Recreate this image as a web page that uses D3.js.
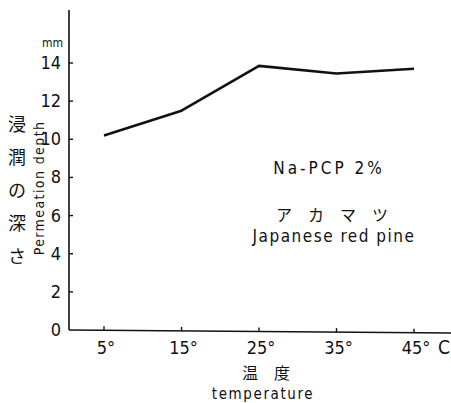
<!DOCTYPE html>
<html lang="ja">
<head>
<meta charset="UTF-8">
<title>Permeation depth</title>
<style>
  body { margin: 0; background: #fff; }
  svg text { fill: #111; }
  .tick-label { font-family: "Liberation Sans Narrow", "DejaVu Sans Condensed", sans-serif; font-size: 18px; }
  .latin { font-family: "DejaVu Sans Condensed", "DejaVu Sans", sans-serif; }
  .cjk { font-family: "Noto Sans CJK JP", sans-serif; }
</style>
</head>
<body>
<svg></svg>
<script src="https://d3js.org/d3.v7.min.js"></script>
<script>
  // values
  let temps = [5, 15, 25, 35, 45];
  let depth = [10.2, 11.5, 13.85, 13.45, 13.7];
  let yTicks = [0, 2, 4, 6, 8, 10, 12, 14];
  let xTickLabels = ['5°', '15°', '25°', '35°', '45°'];

  let width = 451, height = 403;

  let svg = d3.select('svg')
    .attr('width', width)
    .attr('height', height);

  let x = d3.scaleLinear().domain([5, 45]).range([104, 414]);
  let y = d3.scaleLinear().domain([0, 14]).range([330, 63]);

  let axisX = 69;

  // axes lines
  svg.append('line')
    .attr('x1', axisX).attr('x2', axisX)
    .attr('y1', 10).attr('y2', y(0))
    .attr('stroke', '#111').attr('stroke-width', 1.6);

  svg.append('line')
    .attr('x1', axisX).attr('x2', 451)
    .attr('y1', y(0)).attr('y2', y(0) + 3)
    .attr('stroke', '#111').attr('stroke-width', 1.6);

  // y ticks
  let gy = svg.append('g');
  gy.selectAll('line')
    .data(yTicks.filter(d => d > 0))
    .enter()
    .append('line')
    .attr('x1', axisX).attr('x2', axisX + 4)
    .attr('y1', d => y(d)).attr('y2', d => y(d))
    .attr('stroke', '#111').attr('stroke-width', 1.4);

  gy.selectAll('text')
    .data(yTicks)
    .enter()
    .append('text')
    .attr('class', 'tick-label')
    .attr('x', axisX - 8)
    .attr('y', d => y(d) + 6)
    .attr('text-anchor', 'end')
    .text(d => d);

  svg.append('text')
    .attr('class', 'tick-label')
    .attr('x', axisX - 6)
    .attr('y', 47)
    .attr('text-anchor', 'end')
    .style('font-size', '12px')
    .text('mm');

  // x ticks
  let gx = svg.append('g');
  gx.selectAll('line')
    .data(temps)
    .enter()
    .append('line')
    .attr('x1', d => x(d)).attr('x2', d => x(d))
    .attr('y1', d => y(0) + (x(d) - axisX) / 382 * 3 - 4)
    .attr('y2', d => y(0) + (x(d) - axisX) / 382 * 3)
    .attr('stroke', '#111').attr('stroke-width', 1.4);

  gx.selectAll('text')
    .data(temps)
    .enter()
    .append('text')
    .attr('class', 'tick-label')
    .attr('x', (d, i) => x(d) + 2)
    .attr('y', 354)
    .attr('text-anchor', 'middle')
    .text((d, i) => xTickLabels[i]);

  svg.append('text')
    .attr('class', 'tick-label')
    .attr('x', 444)
    .attr('y', 354)
    .attr('text-anchor', 'middle')
    .style('font-size', '19px')
    .text('C');

  // data line
  let line = d3.line()
    .x((d, i) => x(temps[i]))
    .y(d => y(d));

  svg.append('path')
    .datum(depth)
    .attr('d', line)
    .attr('fill', 'none')
    .attr('stroke', '#111')
    .attr('stroke-width', 2.6)
    .attr('stroke-linejoin', 'round');

  // y axis titles
  let yTitle = ['浸', '潤', 'の', '深', 'さ'];
  svg.append('g')
    .selectAll('text')
    .data(yTitle)
    .enter()
    .append('text')
    .attr('class', 'cjk')
    .attr('x', 17)
    .attr('y', (d, i) => 131 + i * 33)
    .attr('text-anchor', 'middle')
    .style('font-size', '18px')
    .text(d => d);

  svg.append('text')
    .attr('class', 'latin')
    .attr('transform', 'translate(44,188) rotate(-90)')
    .attr('text-anchor', 'middle')
    .style('font-size', '14px')
    .style('letter-spacing', '1.4px')
    .text('Permeation depth');

  // x axis titles
  svg.append('text')
    .attr('class', 'cjk')
    .attr('x', 266)
    .attr('y', 379)
    .attr('text-anchor', 'middle')
    .style('font-size', '16px')
    .text('温　度');

  svg.append('text')
    .attr('class', 'latin')
    .attr('x', 263)
    .attr('y', 399)
    .attr('text-anchor', 'middle')
    .style('font-size', '15px')
    .style('letter-spacing', '1.6px')
    .text('temperature');

  // annotations
  svg.append('text')
    .attr('class', 'latin')
    .attr('x', 329)
    .attr('y', 174)
    .attr('text-anchor', 'middle')
    .style('font-size', '17px')
    .style('letter-spacing', '3px')
    .text('Na-PCP 2%');

  svg.append('text')
    .attr('class', 'cjk')
    .attr('x', 340)
    .attr('y', 221)
    .attr('text-anchor', 'middle')
    .style('font-size', '16px')
    .style('letter-spacing', '16px')
    .text('アカマツ');

  svg.append('text')
    .attr('class', 'latin')
    .attr('x', 334)
    .attr('y', 242)
    .attr('text-anchor', 'middle')
    .style('font-size', '17px')
    .style('letter-spacing', '1.5px')
    .text('Japanese red pine');
</script>
</body>
</html>
